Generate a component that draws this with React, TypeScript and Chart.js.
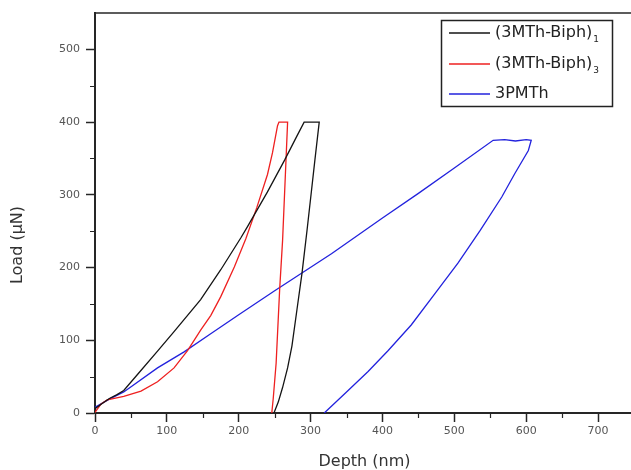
import { useEffect, useRef } from "react";
import { Chart, registerables } from "chart.js";

Chart.register(...registerables);

// (3MTh-Biph)1 : loading, hold, unloading
const biph1Depth = [0, 10, 20, 30, 40, 60, 87, 110, 147, 175, 203, 212, 240, 264, 280, 291, 300, 312, 306, 300, 295, 288, 281, 274, 268, 261, 255, 249];
const biph1Load = [6, 13, 20, 25, 31, 54, 85, 112, 156, 197, 241, 256, 304, 348, 379, 400, 400, 400, 348, 295, 251, 192, 142, 92, 62, 35, 15, 0];

// (3MTh-Biph)3
const biph3Depth = [0, 8, 17, 40, 64, 87, 110, 129, 147, 161, 175, 194, 210, 225, 240, 247, 254, 256, 268, 265, 261, 257, 252, 248, 246];
const biph3Load = [1, 12, 18, 23, 30, 43, 62, 86, 114, 134, 160, 201, 240, 282, 328, 358, 395, 400, 400, 330, 237, 171, 68, 20, 0];

// 3PMTh
const pmthDepth = [0, 20, 40, 87, 124, 161, 200, 250, 329, 400, 450, 500, 554, 570, 585, 600, 607, 603, 584, 566, 536, 505, 473, 440, 408, 380, 350, 319];
const pmthLoad = [8, 19, 29, 62, 84, 109, 135, 168, 219, 268, 302, 337, 375, 376, 374, 376, 375, 361, 329, 297, 251, 206, 164, 121, 86, 57, 29, 0];

const seriesNames = ["(3MTh-Biph)", "(3MTh-Biph)", "3PMTh"];
const seriesSubscripts = ["1", "3", ""];
const seriesColors = ["#141414", "#ee2020", "#2222dd"];

const xMinorTicks = [50, 150, 250, 350, 450, 550, 650, 750];
const yMinorTicks = [50, 150, 250, 350, 450];

const xTitle = "Depth (nm)";
const yTitle = "Load (µN)";

const FONT = "'DejaVu Sans', sans-serif";
const AXIS_COLOR = "#262626";

function toPoints(xs: number[], ys: number[]) {
  return xs.map((x, i) => ({ x, y: ys[i] }));
}

// Frame top line, minor ticks, y-axis title and the boxed legend
const decorations = {
  id: "decorations",
  afterDraw(chart: any) {
    const { ctx, chartArea, scales } = chart;
    const xs = scales.x;
    const ys = scales.y;
    ctx.save();
    ctx.strokeStyle = AXIS_COLOR;
    ctx.lineWidth = 1.5;
    ctx.beginPath();
    ctx.moveTo(chartArea.left, chartArea.top);
    ctx.lineTo(chartArea.right, chartArea.top);
    ctx.stroke();

    ctx.lineWidth = 1.2;
    ctx.beginPath();
    for (const v of xMinorTicks) {
      const px = Math.round(xs.getPixelForValue(v)) + 0.5;
      ctx.moveTo(px, chartArea.bottom);
      ctx.lineTo(px, chartArea.bottom + 5);
    }
    for (const v of yMinorTicks) {
      const py = Math.round(ys.getPixelForValue(v)) + 0.5;
      ctx.moveTo(chartArea.left, py);
      ctx.lineTo(chartArea.left - 5, py);
    }
    ctx.stroke();

    // y-axis title
    ctx.save();
    ctx.translate(18, 245);
    ctx.rotate(-Math.PI / 2);
    ctx.fillStyle = "#333";
    ctx.font = `16px ${FONT}`;
    ctx.textAlign = "center";
    ctx.textBaseline = "middle";
    ctx.fillText(yTitle, 0, 0);
    ctx.restore();

    // legend
    const boxL = 441.5, boxT = 20.5, boxR = 612.5, boxB = 106.5;
    ctx.fillStyle = "#fff";
    ctx.fillRect(boxL, boxT, boxR - boxL, boxB - boxT);
    ctx.strokeStyle = "#222";
    ctx.lineWidth = 1.5;
    ctx.strokeRect(boxL, boxT, boxR - boxL, boxB - boxT);
    const rows = [33, 64, 94];
    seriesNames.forEach((name, i) => {
      const ry = rows[i];
      ctx.strokeStyle = seriesColors[i];
      ctx.lineWidth = 1.3;
      ctx.beginPath();
      ctx.moveTo(449, ry);
      ctx.lineTo(490, ry);
      ctx.stroke();
      ctx.fillStyle = "#222";
      ctx.font = `16px ${FONT}`;
      ctx.textAlign = "left";
      ctx.textBaseline = "middle";
      ctx.fillText(name, 495, ry);
      const w = ctx.measureText(name).width;
      if (seriesSubscripts[i]) {
        ctx.font = `9px ${FONT}`;
        ctx.fillText(seriesSubscripts[i], 495 + w + 1, ry + 7);
      }
    });
    ctx.restore();
  },
};

export default function App() {
  const canvasRef = useRef<HTMLCanvasElement | null>(null);

  useEffect(() => {
    const canvas = canvasRef.current;
    if (!canvas) return;
    const common = { fill: false, pointRadius: 0, borderWidth: 1.3, tension: 0 };
    const chart = new Chart(canvas, {
      type: "line",
      data: {
        datasets: [
          { ...common, label: seriesNames[0], data: toPoints(biph1Depth, biph1Load), borderColor: seriesColors[0] },
          { ...common, label: seriesNames[1], data: toPoints(biph3Depth, biph3Load), borderColor: seriesColors[1] },
          { ...common, label: seriesNames[2], data: toPoints(pmthDepth, pmthLoad), borderColor: seriesColors[2] },
        ],
      },
      options: {
        animation: false,
        responsive: false,
        maintainAspectRatio: false,
        devicePixelRatio: 1,
        parsing: false as any,
        layout: { padding: { left: 0, top: 13, right: 0, bottom: 0 } },
        plugins: {
          legend: { display: false },
          tooltip: { enabled: false },
        },
        scales: {
          x: {
            type: "linear",
            min: 0,
            max: 750,
            afterFit: (s: any) => {
              s.height = 57;
            },
            border: { display: true, color: AXIS_COLOR, width: 2 },
            grid: {
              display: true,
              drawOnChartArea: false,
              drawTicks: true,
              tickLength: 9,
              tickColor: AXIS_COLOR,
              tickWidth: 1.5,
            },
            ticks: {
              stepSize: 100,
              includeBounds: false,
              maxRotation: 0,
              autoSkip: false,
              padding: 3,
              color: "#555",
              font: { family: FONT, size: 11 },
            },
            title: {
              display: true,
              text: xTitle,
              color: "#333",
              font: { family: FONT, size: 16, lineHeight: 1 },
              padding: { top: 0, bottom: 0 },
            },
          },
          y: {
            type: "linear",
            min: 0,
            max: 550,
            afterFit: (s: any) => {
              s.width = 95;
            },
            border: { display: true, color: AXIS_COLOR, width: 2 },
            grid: {
              display: true,
              drawOnChartArea: false,
              drawTicks: true,
              tickLength: 9,
              tickColor: AXIS_COLOR,
              tickWidth: 1.5,
            },
            ticks: {
              stepSize: 100,
              includeBounds: false,
              autoSkip: false,
              padding: 6,
              color: "#555",
              font: { family: FONT, size: 11 },
            },
          },
        },
      },
      plugins: [decorations],
    });
    return () => chart.destroy();
  }, []);

  return (
    <div
      style={{
        position: "fixed",
        left: 0,
        top: 0,
        width: 631,
        height: 470,
        overflow: "hidden",
        background: "#fff",
      }}
    >
      <canvas ref={canvasRef} width={634} height={470} style={{ display: "block" }} />
    </div>
  );
}
